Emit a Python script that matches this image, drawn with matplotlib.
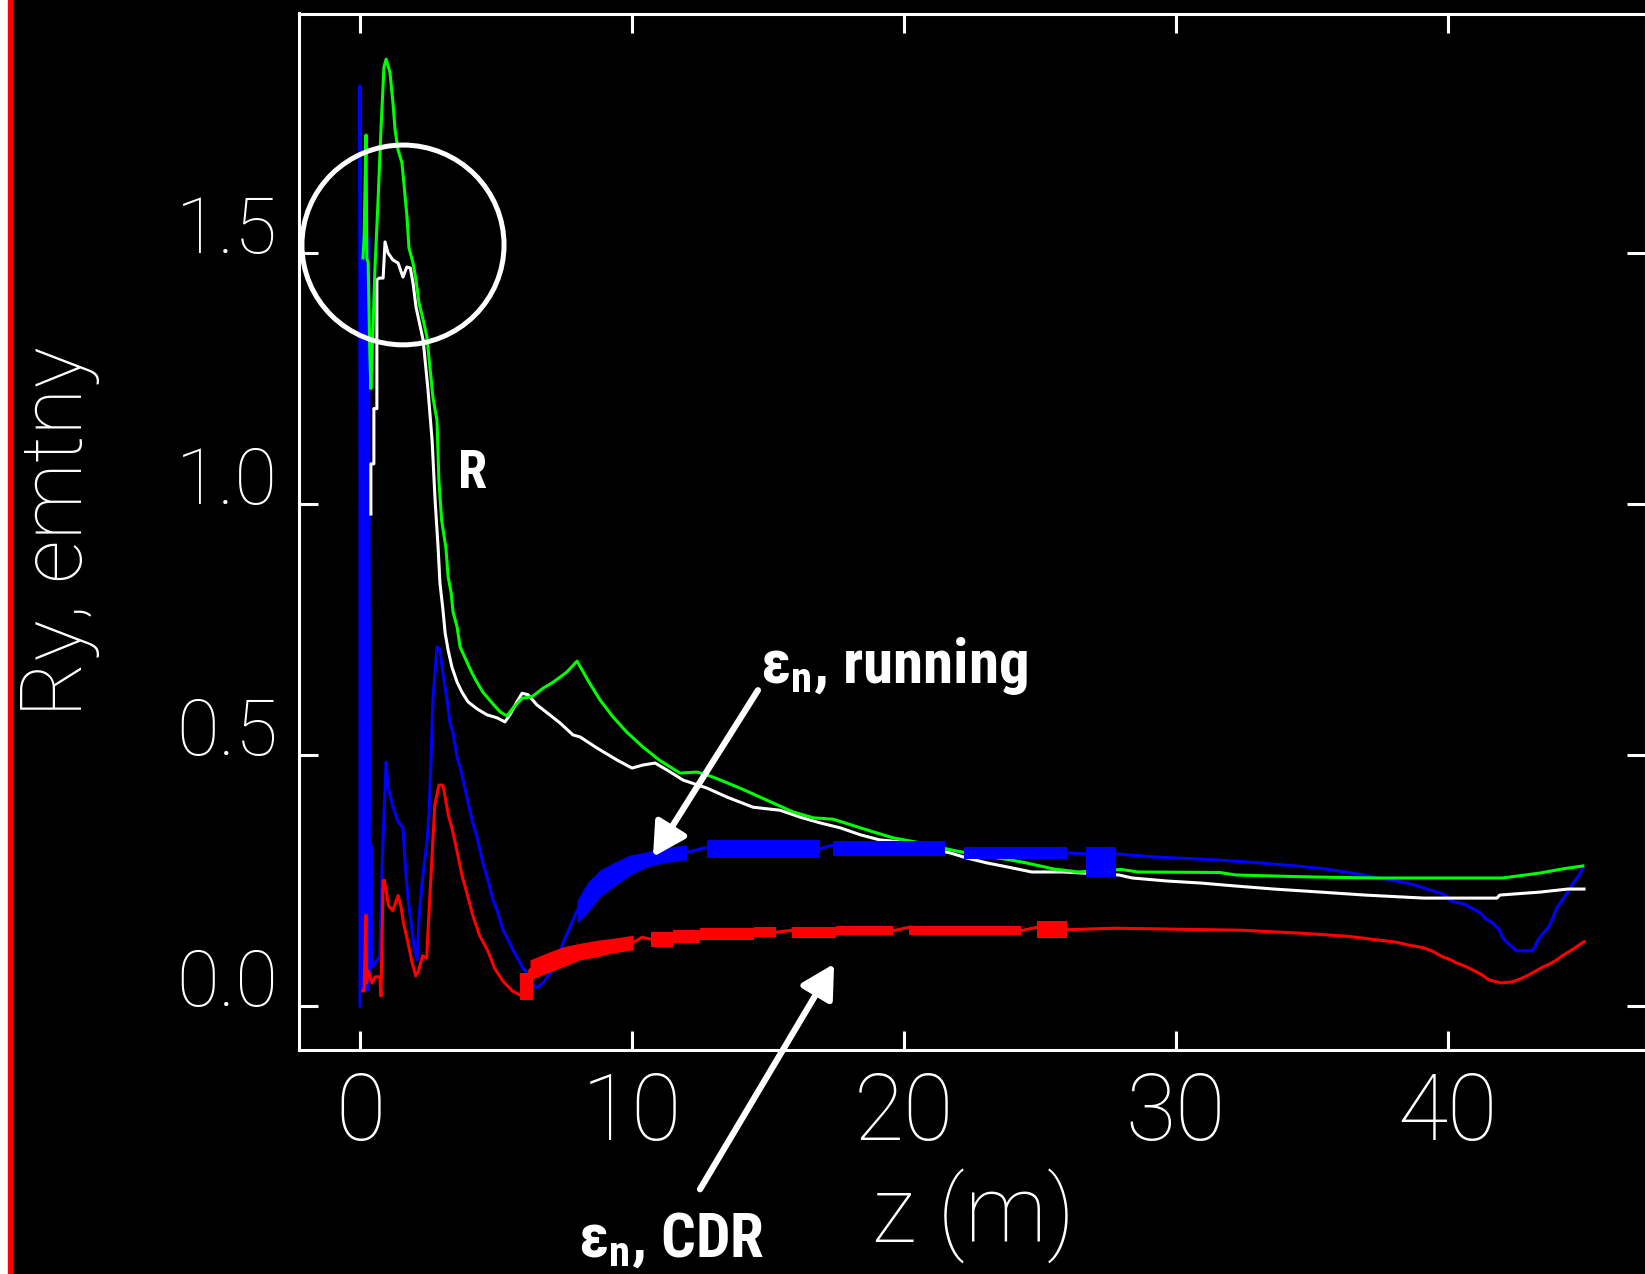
import matplotlib
matplotlib.use("Agg")
import matplotlib.pyplot as plt
from matplotlib.patches import Ellipse, Rectangle

# ---- data (z in m) ----
green_z = [0.11, 0.15, 0.22, 0.25, 0.3, 0.36, 0.4, 0.47, 0.55, 0.66, 0.77, 0.88, 0.96,
           1.1, 1.21, 1.29, 1.4, 1.54, 1.62, 1.73, 1.8, 1.95, 2.06, 2.17, 2.32, 2.46, 2.57,
           2.68, 2.83, 2.9, 3.0, 3.16, 3.24, 3.35, 3.42, 3.57, 3.68, 3.9, 4.12, 4.3, 4.52,
           4.85, 5.15, 5.4, 5.63, 5.96, 6.32, 6.73, 7.1, 7.6, 7.98, 8.42, 8.82, 9.3, 9.8,
           10.4, 11.0, 11.76, 12.4, 12.98, 13.97, 14.96, 15.9, 16.65, 17.4, 18.1, 18.86,
           19.6, 20.4, 21.9, 23.2, 23.9, 24.5, 25.5, 26.4, 28.0, 28.6, 31.6, 32.2, 35.0,
           37.4, 42.0, 43.4, 44.2, 44.96]
green_y = [1.49, 1.53, 1.735, 1.49, 1.48, 1.30, 1.23, 1.34, 1.47, 1.6, 1.745, 1.87, 1.886,
           1.86, 1.80, 1.745, 1.705, 1.68, 1.635, 1.57, 1.51, 1.48, 1.446, 1.40, 1.367, 1.333,
           1.273, 1.213, 1.167, 1.048, 0.968, 0.912, 0.855, 0.823, 0.785, 0.755, 0.715, 0.689,
           0.663, 0.645, 0.625, 0.604, 0.586, 0.578, 0.594, 0.613, 0.616, 0.633, 0.645, 0.665,
           0.687, 0.645, 0.61, 0.576, 0.546, 0.516, 0.49, 0.464, 0.466, 0.456, 0.434, 0.41,
           0.387, 0.375, 0.372, 0.36, 0.347, 0.335, 0.327, 0.309, 0.297, 0.291, 0.285, 0.273,
           0.267, 0.272, 0.267, 0.266, 0.261, 0.257, 0.255, 0.255, 0.265, 0.273, 0.279]

white_z = [0.4, 0.4, 0.51, 0.51, 0.62, 0.62, 0.7, 0.85, 0.92, 1.03, 1.21, 1.4, 1.58, 1.72,
           1.85, 1.95, 2.06, 2.32, 2.5, 2.65, 2.76, 2.87, 2.94, 3.05, 3.13, 3.24, 3.38, 3.57,
           3.75, 3.97, 4.3, 4.67, 5.04, 5.33, 5.51, 5.77, 5.96, 6.18, 6.5, 6.88, 7.35, 7.83,
           8.09, 8.71, 9.45, 10.0, 10.4, 10.85, 11.29, 11.88, 12.76, 13.5, 14.45, 15.44, 16.2,
           16.9, 17.65, 18.4, 19.1, 19.85, 21.7, 22.3, 23.05, 23.8, 24.7, 25.85, 27.9, 28.4,
           29.67, 30.9, 32.2, 33.6, 35.3, 36.95, 39.1, 41.8, 41.9, 43.4, 44.4, 45.0]
white_y = [0.98, 1.08, 1.08, 1.19, 1.19, 1.446, 1.45, 1.45, 1.522, 1.5, 1.486, 1.48, 1.452,
           1.472, 1.47, 1.44, 1.392, 1.327, 1.227, 1.127, 1.008, 0.914, 0.842, 0.789, 0.743,
           0.709, 0.675, 0.645, 0.625, 0.606, 0.592, 0.580, 0.574, 0.566, 0.58, 0.606, 0.623,
           0.62, 0.6, 0.584, 0.564, 0.54, 0.536, 0.514, 0.49, 0.474, 0.48, 0.484, 0.47, 0.45,
           0.434, 0.416, 0.396, 0.39, 0.376, 0.365, 0.355, 0.341, 0.331, 0.327, 0.305, 0.295,
           0.285, 0.277, 0.267, 0.267, 0.261, 0.255, 0.249, 0.245, 0.239, 0.233, 0.227, 0.221,
           0.215, 0.215, 0.221, 0.227, 0.233, 0.233]

blue_z = [0.0, 0.0, 0.04, 0.08, 0.12, 0.16, 0.2, 0.24, 0.28, 0.32, 0.36, 0.4, 0.45, 0.48,
          0.6, 0.73, 0.84, 0.96, 1.03, 1.18, 1.29, 1.4, 1.58, 1.65, 1.76, 1.88, 1.99, 2.1,
          2.17, 2.32, 2.46, 2.54, 2.61, 2.68, 2.83, 2.94, 3.05, 3.2, 3.31, 3.42, 3.57, 3.68,
          3.79, 3.93, 4.04, 4.15, 4.3, 4.41, 4.52, 4.67, 4.78, 4.89, 5.04, 5.15, 5.26, 5.4,
          5.51, 5.62, 5.77, 5.96, 6.14, 6.32, 6.5, 6.73, 6.99, 7.24, 7.46, 7.72, 7.98, 8.35,
          8.82, 9.3, 9.93, 10.55, 11.14, 12.0, 12.7, 16.9, 17.4, 21.5, 22.2, 26.0, 26.7, 27.8,
          29.15, 31.5, 33.1, 34.4, 35.5, 36.2, 36.9, 37.4, 38.1, 38.5, 38.9, 39.2, 39.6, 39.9,
          40.1, 40.6, 40.8, 41.2, 41.4, 41.65, 41.9, 42.0, 42.2, 42.4, 42.5, 43.1, 43.2, 43.3,
          43.5, 43.7, 43.85, 44.0, 44.2, 44.4, 44.6, 44.8, 44.96]
blue_y = [0.0, 1.833, 0.05, 1.53, 0.05, 1.53, 0.05, 1.53, 0.05, 1.53, 0.05, 0.32, 0.09, 0.078,
          0.09, 0.098, 0.325, 0.486, 0.436, 0.404, 0.384, 0.367, 0.355, 0.29, 0.217, 0.165,
          0.118, 0.092, 0.177, 0.265, 0.325, 0.384, 0.49, 0.61, 0.715, 0.709, 0.663, 0.61,
          0.564, 0.544, 0.496, 0.476, 0.45, 0.416, 0.39, 0.364, 0.337, 0.311, 0.285, 0.257,
          0.235, 0.211, 0.191, 0.171, 0.151, 0.137, 0.125, 0.112, 0.098, 0.078, 0.066, 0.046,
          0.036, 0.046, 0.066, 0.092, 0.125, 0.157, 0.19, 0.215, 0.244, 0.261, 0.281, 0.292,
          0.3, 0.306, 0.315, 0.313, 0.321, 0.314, 0.305, 0.305, 0.303, 0.303, 0.297,
          0.291, 0.285, 0.279, 0.273, 0.267, 0.261, 0.255, 0.249, 0.245, 0.239, 0.233, 0.227,
          0.221, 0.209, 0.203, 0.197, 0.185, 0.173, 0.165, 0.151, 0.137, 0.125, 0.116, 0.110,
          0.110, 0.118, 0.131, 0.145, 0.157, 0.175, 0.195, 0.211, 0.227, 0.245, 0.259, 0.275]

red_z = [0.1, 0.15, 0.22, 0.24, 0.3, 0.45, 0.55, 0.73, 0.77, 0.85, 0.9, 1.05, 1.2, 1.4,
         1.5, 1.6, 1.75, 1.9, 2.05, 2.15, 2.3, 2.45, 2.55, 2.65, 2.75, 2.9, 3.05, 3.15, 3.25,
         3.4, 3.6, 3.75, 3.93, 4.15, 4.4, 4.7, 4.95, 5.25, 5.6, 5.95, 6.1, 6.25, 6.88, 7.46,
         8.09, 8.71, 9.3, 10.04, 10.37, 10.7, 11.5, 12.5, 14.5, 15.3, 15.9, 17.5, 19.6, 20.2,
         24.3, 24.9, 26.0, 27.75, 32.4, 34.6, 36.3, 37.2, 38.1, 38.6, 39.1, 39.4, 39.6, 39.8,
         40.1, 40.3, 40.6, 40.9, 41.25, 41.5, 41.95, 42.35, 42.65, 42.9, 43.1, 43.3, 43.5,
         43.75, 44.0, 44.2, 44.5, 44.75, 45.0]
red_y = [0.03, 0.03, 0.181, 0.046, 0.07, 0.046, 0.058, 0.058, 0.02, 0.25, 0.25, 0.2, 0.19,
         0.22, 0.2, 0.165, 0.13, 0.09, 0.06, 0.07, 0.1, 0.095, 0.2, 0.3, 0.4, 0.44, 0.44,
         0.41, 0.38, 0.35, 0.3, 0.26, 0.225, 0.18, 0.14, 0.11, 0.075, 0.05, 0.03, 0.02, 0.04,
         0.072, 0.086, 0.098, 0.108, 0.114, 0.12, 0.126, 0.137, 0.133, 0.137, 0.14, 0.143,
         0.147, 0.151, 0.148, 0.15, 0.157, 0.15, 0.157, 0.152, 0.155, 0.151, 0.145, 0.139,
         0.133, 0.127, 0.121, 0.116, 0.11, 0.104, 0.098, 0.092, 0.086, 0.08, 0.072, 0.062,
         0.052, 0.046, 0.048, 0.054, 0.06, 0.066, 0.072, 0.078, 0.084, 0.092, 0.1, 0.11,
         0.119, 0.128]

# spread of the dense (thick) parts of the curves: z, lower, upper
blue_bar_z = [-0.04, 0.37]
blue_bar_lo = [0.03, 0.03]
blue_bar_hi = [1.53, 1.53]
blue_foot_z = [0.37, 0.48]
blue_foot_lo = [0.086, 0.086]
blue_foot_hi = [0.317, 0.317]
blue_rise_z = [7.98, 8.35, 8.82, 9.3, 9.93, 10.55, 11.14, 12.0]
blue_rise_lo = [0.165, 0.185, 0.217, 0.237, 0.261, 0.277, 0.285, 0.291]
blue_rise_hi = [0.211, 0.245, 0.271, 0.285, 0.301, 0.307, 0.315, 0.321]
blue_flat = [(12.76, 16.9, 0.295, 0.331), (17.4, 21.5, 0.299, 0.329),
             (22.2, 26.0, 0.293, 0.317), (26.7, 27.8, 0.257, 0.317)]

red_min_z = [5.9, 6.35]
red_min_lo = [0.012, 0.012]
red_min_hi = [0.066, 0.066]
red_rise_z = [6.25, 6.88, 7.46, 8.09, 8.71, 9.3, 10.04]
red_rise_lo = [0.052, 0.066, 0.078, 0.092, 0.098, 0.106, 0.112]
red_rise_hi = [0.092, 0.106, 0.118, 0.125, 0.131, 0.135, 0.141]
red_flat = [(10.7, 11.5, 0.118, 0.147), (11.5, 12.5, 0.125, 0.151), (12.5, 14.5, 0.131, 0.155),
            (14.5, 15.3, 0.137, 0.157), (15.9, 17.5, 0.135, 0.157), (17.5, 19.6, 0.141, 0.159),
            (20.2, 24.3, 0.141, 0.159), (24.9, 26.0, 0.135, 0.169)]

x_ticks = [0, 10, 20, 30, 40]
x_tick_labels = ["0", "10", "20", "30", "40"]
y_ticks = [0.0, 0.5, 1.0, 1.5]
y_tick_labels = ["0.0", "0.5", "1.0", "1.5"]

W, H = 1645, 1274

fig = plt.figure(figsize=(W / 100, H / 100), dpi=100, facecolor="black")

# white strip and red rule at the left edge
fig.patches.append(Rectangle((0, 0), 8.4 / W, 1, transform=fig.transFigure, color="white", zorder=0))
fig.patches.append(Rectangle((8.4 / W, 0), 4 / W, 1, transform=fig.transFigure, color="#ff0000", zorder=0))

ax = fig.add_axes([299 / W, 1 - 1050 / H, (1646 - 299) / W, (1050 - 13.5) / H])
ax.set_facecolor("black")
ax.set_xlim(-2.243, 47.28)
ax.set_ylim(-0.0876, 1.977)

lw = 2.2
ax.fill_between(blue_bar_z, blue_bar_lo, blue_bar_hi, color="#0000ff", lw=0, zorder=1)
ax.fill_between(blue_foot_z, blue_foot_lo, blue_foot_hi, color="#0000ff", lw=0, zorder=1)
ax.plot(blue_z, blue_y, color="#0000ff", lw=lw, zorder=2)
ax.plot(red_z, red_y, color="#ff0000", lw=lw, zorder=2)
ax.plot(white_z, white_y, color="white", lw=lw, zorder=2)
ax.plot(green_z, green_y, color="#00ff00", lw=lw, zorder=2)

ax.fill_between(blue_rise_z, blue_rise_lo, blue_rise_hi, color="#0000ff", lw=0, zorder=3)
for z0, z1, lo, hi in blue_flat:
    ax.fill_between([z0, z1], [lo, lo], [hi, hi], color="#0000ff", lw=0, zorder=3)
ax.fill_between(red_min_z, red_min_lo, red_min_hi, color="#ff0000", lw=0, zorder=3)
ax.fill_between(red_rise_z, red_rise_lo, red_rise_hi, color="#ff0000", lw=0, zorder=3)
for z0, z1, lo, hi in red_flat:
    ax.fill_between([z0, z1], [lo, lo], [hi, hi], color="#ff0000", lw=0, zorder=3)

# axes styling
for sp in ax.spines.values():
    sp.set_color("white")
    sp.set_linewidth(2.2)

tick_font = dict(family="Roboto", weight=250, color="white")
ax.set_xticks(x_ticks)
ax.set_xticklabels(x_tick_labels, fontsize=66, **tick_font)
ax.set_yticks(y_ticks)
ax.set_yticklabels(y_tick_labels, fontsize=56, **tick_font)
for lab in ax.get_yticklabels():
    lab.set_verticalalignment("baseline")
ax.tick_params(axis="both", direction="in", length=13.7, width=2.2, colors="white",
               top=True, right=True)
ax.tick_params(axis="x", pad=15)
ax.tick_params(axis="y", pad=15)

ax.set_xlabel("z (m)", fontsize=66, family="Roboto", weight=250, color="white")
ax.xaxis.set_label_coords((973 - 299) / 1347, (1050 - 1168) / 1036.5)
ax.set_ylabel("Ry, emtny", fontsize=62, family="Roboto", weight=250, color="white")
ax.yaxis.set_label_coords((100 - 299) / 1347, 0.5)

# annotations
ax.add_patch(Ellipse((1.58, 1.516), 7.43, 0.398, fill=False, ec="white", lw=3.6, zorder=5))

ann_font = dict(family="Roboto Condensed", weight="bold", color="white")
ax.text(3.6, 1.032, "R", fontsize=38, ha="left", va="baseline", **ann_font)
ax.text(14.7, 0.643, r"ε$_\mathregular{n}$, running", fontsize=44, ha="left", va="baseline", **ann_font)
ax.text(8.0, -0.5, r"ε$_\mathregular{n}$, CDR", fontsize=44, ha="left", va="baseline",
        clip_on=False, **ann_font)

arrow = dict(arrowstyle="-|>,head_length=0.4,head_width=0.22", mutation_scale=50,
             lw=4.5, color="white", shrinkA=0, shrinkB=0)
ax.annotate("", xy=(10.77, 0.297), xytext=(14.63, 0.629), arrowprops=arrow, zorder=6)
ax.annotate("", xy=(17.43, 0.084), xytext=(12.5, -0.365), arrowprops=arrow,
            annotation_clip=False, zorder=6)

fig.savefig("out.png", dpi=100, facecolor="black")
